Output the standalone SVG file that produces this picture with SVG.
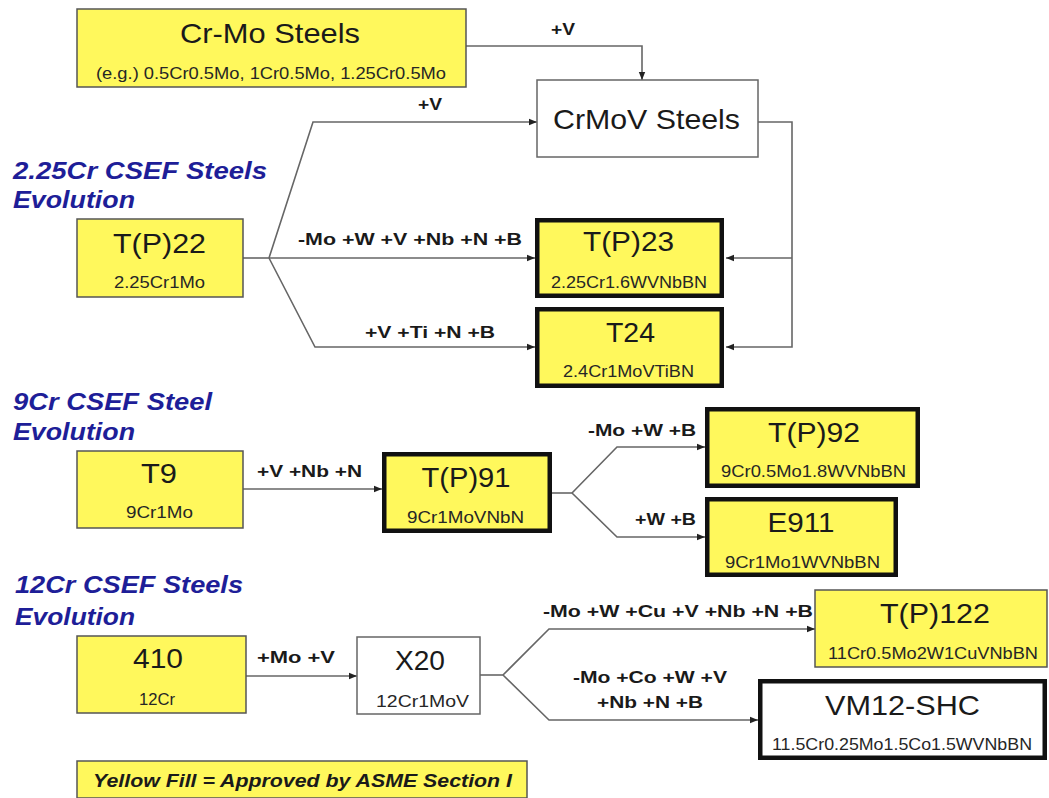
<svg xmlns="http://www.w3.org/2000/svg" width="1049" height="798" viewBox="0 0 1049 798">
<style>
text{font-family:"Liberation Sans",Arial,sans-serif;fill:#1a1a1a}
.t{font-size:28px;text-anchor:middle}
.s{font-size:16.5px;text-anchor:middle;fill:#262626}
.l{font-size:16px;font-weight:bold}
.h{font-size:24px;font-weight:bold;font-style:italic;fill:#1e1e98}
.y{fill:#fff85c;stroke:#555;stroke-width:1.5}
.w{fill:#fff;stroke:#666;stroke-width:1.5}
.yk{fill:#fff85c;stroke:#111;stroke-width:4.5}
.wk{fill:#fff;stroke:#111;stroke-width:4.5}
.c{fill:none;stroke:#666;stroke-width:1.6}
.g{font-size:19px;font-weight:bold;font-style:italic;text-anchor:middle}
</style>
<defs>
<marker id="a" markerUnits="userSpaceOnUse" markerWidth="8" markerHeight="8" refX="8" refY="4" orient="auto">
<path d="M0,0.8 L8,4 L0,7.2 z" fill="#222"/>
</marker>
</defs>

<g id="headers">
<text class="h" x="13" y="179" textLength="254" lengthAdjust="spacingAndGlyphs">2.25Cr CSEF Steels</text>
<text class="h" x="13" y="208" textLength="122" lengthAdjust="spacingAndGlyphs">Evolution</text>
<text class="h" x="13" y="410" textLength="199" lengthAdjust="spacingAndGlyphs">9Cr CSEF Steel</text>
<text class="h" x="13" y="440" textLength="122" lengthAdjust="spacingAndGlyphs">Evolution</text>
<text class="h" x="15" y="593" textLength="228" lengthAdjust="spacingAndGlyphs">12Cr CSEF Steels</text>
<text class="h" x="15" y="625" textLength="120" lengthAdjust="spacingAndGlyphs">Evolution</text>
</g>

<g id="connectors">
<path class="c" d="M466,46 H642 V80" marker-end="url(#a)"/>
<path class="c" d="M243,258 H269"/>
<path class="c" d="M269,258 L313,122 H537" marker-end="url(#a)"/>
<path class="c" d="M269,258 H535" marker-end="url(#a)"/>
<path class="c" d="M269,258 L315,347 H535" marker-end="url(#a)"/>
<path class="c" d="M758,122 H792 V347 H726" marker-end="url(#a)"/>
<path class="c" d="M792,258 H726" marker-end="url(#a)"/>
<path class="c" d="M243,489 H382" marker-end="url(#a)"/>
<path class="c" d="M552,493 H572"/>
<path class="c" d="M572,493 L617,447 H705" marker-end="url(#a)"/>
<path class="c" d="M572,493 L617,537 H705" marker-end="url(#a)"/>
<path class="c" d="M246,676 H357" marker-end="url(#a)"/>
<path class="c" d="M480,675 H503"/>
<path class="c" d="M503,675 L549,629 H815" marker-end="url(#a)"/>
<path class="c" d="M503,675 L549,720 H758" marker-end="url(#a)"/>
<text class="l" x="551" y="35" textLength="24" lengthAdjust="spacingAndGlyphs">+V</text>
<text class="l" x="418" y="110" textLength="24" lengthAdjust="spacingAndGlyphs">+V</text>
<text class="l" x="298" y="245" textLength="224" lengthAdjust="spacingAndGlyphs">-Mo +W  +V +Nb  +N  +B</text>
<text class="l" x="365" y="338" textLength="130" lengthAdjust="spacingAndGlyphs">+V +Ti +N +B</text>
<text class="l" x="257" y="477" textLength="105" lengthAdjust="spacingAndGlyphs">+V +Nb +N</text>
<text class="l" x="588" y="436" textLength="108" lengthAdjust="spacingAndGlyphs">-Mo +W +B</text>
<text class="l" x="635" y="525" textLength="61" lengthAdjust="spacingAndGlyphs">+W +B</text>
<text class="l" x="257" y="663" textLength="78" lengthAdjust="spacingAndGlyphs">+Mo +V</text>
<text class="l" x="543" y="617" textLength="270" lengthAdjust="spacingAndGlyphs">-Mo +W +Cu +V +Nb +N +B</text>
<text class="l" x="573" y="683" textLength="154" lengthAdjust="spacingAndGlyphs">-Mo +Co +W +V</text>
<text class="l" x="597" y="708" textLength="106" lengthAdjust="spacingAndGlyphs">+Nb +N +B</text>
</g>

<g id="crmo">
<rect class="y" x="77" y="9" width="389" height="78"/>
<text class="t" x="270" y="43" textLength="180" lengthAdjust="spacingAndGlyphs">Cr-Mo Steels</text>
<text class="s" x="271" y="79" textLength="350" lengthAdjust="spacingAndGlyphs">(e.g.) 0.5Cr0.5Mo, 1Cr0.5Mo, 1.25Cr0.5Mo</text>
</g>
<g id="crmov">
<rect class="w" x="537" y="80" width="221" height="77"/>
<text class="t" x="646.5" y="129" textLength="187" lengthAdjust="spacingAndGlyphs">CrMoV Steels</text>
</g>
<g id="tp22">
<rect class="y" x="77" y="219" width="166" height="78"/>
<text class="t" x="159.5" y="253" textLength="93" lengthAdjust="spacingAndGlyphs">T(P)22</text>
<text class="s" x="159.5" y="288" textLength="91" lengthAdjust="spacingAndGlyphs">2.25Cr1Mo</text>
</g>
<g id="tp23">
<rect class="yk" x="537.25" y="220.25" width="184.5" height="75.5"/>
<text class="t" x="628.5" y="251" textLength="91" lengthAdjust="spacingAndGlyphs">T(P)23</text>
<text class="s" x="629" y="288" textLength="156" lengthAdjust="spacingAndGlyphs">2.25Cr1.6WVNbBN</text>
</g>
<g id="t24">
<rect class="yk" x="537.25" y="309.25" width="184.5" height="76.5"/>
<text class="t" x="630.5" y="342" textLength="49" lengthAdjust="spacingAndGlyphs">T24</text>
<text class="s" x="628.5" y="377" textLength="131" lengthAdjust="spacingAndGlyphs">2.4Cr1MoVTiBN</text>
</g>
<g id="t9">
<rect class="y" x="77" y="451" width="166" height="77"/>
<text class="t" x="159" y="483" textLength="36" lengthAdjust="spacingAndGlyphs">T9</text>
<text class="s" x="159.5" y="518" textLength="67" lengthAdjust="spacingAndGlyphs">9Cr1Mo</text>
</g>
<g id="tp91">
<rect class="yk" x="384.25" y="454.25" width="165.5" height="76.5"/>
<text class="t" x="466" y="487" textLength="89" lengthAdjust="spacingAndGlyphs">T(P)91</text>
<text class="s" x="465.5" y="523" textLength="117" lengthAdjust="spacingAndGlyphs">9Cr1MoVNbN</text>
</g>
<g id="tp92">
<rect class="yk" x="707.25" y="409.25" width="210.5" height="76.5"/>
<text class="t" x="814" y="442" textLength="92" lengthAdjust="spacingAndGlyphs">T(P)92</text>
<text class="s" x="813.5" y="477" textLength="185" lengthAdjust="spacingAndGlyphs">9Cr0.5Mo1.8WVNbBN</text>
</g>
<g id="e911">
<rect class="yk" x="707.25" y="499.25" width="188.5" height="75.5"/>
<text class="t" x="801" y="532" textLength="67" lengthAdjust="spacingAndGlyphs">E911</text>
<text class="s" x="802.5" y="568" textLength="155" lengthAdjust="spacingAndGlyphs">9Cr1Mo1WVNbBN</text>
</g>
<g id="n410">
<rect class="y" x="77" y="636" width="169" height="77"/>
<text class="t" x="158" y="668" textLength="50" lengthAdjust="spacingAndGlyphs">410</text>
<text class="s" x="157" y="705" textLength="36" lengthAdjust="spacingAndGlyphs">12Cr</text>
</g>
<g id="x20">
<rect class="w" x="357" y="637" width="123" height="77"/>
<text class="t" x="420" y="670" textLength="50" lengthAdjust="spacingAndGlyphs">X20</text>
<text class="s" x="422.5" y="707" textLength="93" lengthAdjust="spacingAndGlyphs">12Cr1MoV</text>
</g>
<g id="tp122">
<rect class="y" x="815" y="590" width="232" height="77"/>
<text class="t" x="935" y="623" textLength="110" lengthAdjust="spacingAndGlyphs">T(P)122</text>
<text class="s" x="933" y="659" textLength="210" lengthAdjust="spacingAndGlyphs">11Cr0.5Mo2W1CuVNbBN</text>
</g>
<g id="vm12">
<rect class="wk" x="760.25" y="681.25" width="284.5" height="76.5"/>
<text class="t" x="902.5" y="715" textLength="155" lengthAdjust="spacingAndGlyphs">VM12-SHC</text>
<text class="s" x="902" y="750" textLength="260" lengthAdjust="spacingAndGlyphs">11.5Cr0.25Mo1.5Co1.5WVNbBN</text>
</g>
<g id="legend">
<rect class="y" x="77" y="761" width="450" height="37"/>
<text class="g" x="302.5" y="787" textLength="419" lengthAdjust="spacingAndGlyphs">Yellow Fill = Approved by ASME Section I</text>
</g>
</svg>
